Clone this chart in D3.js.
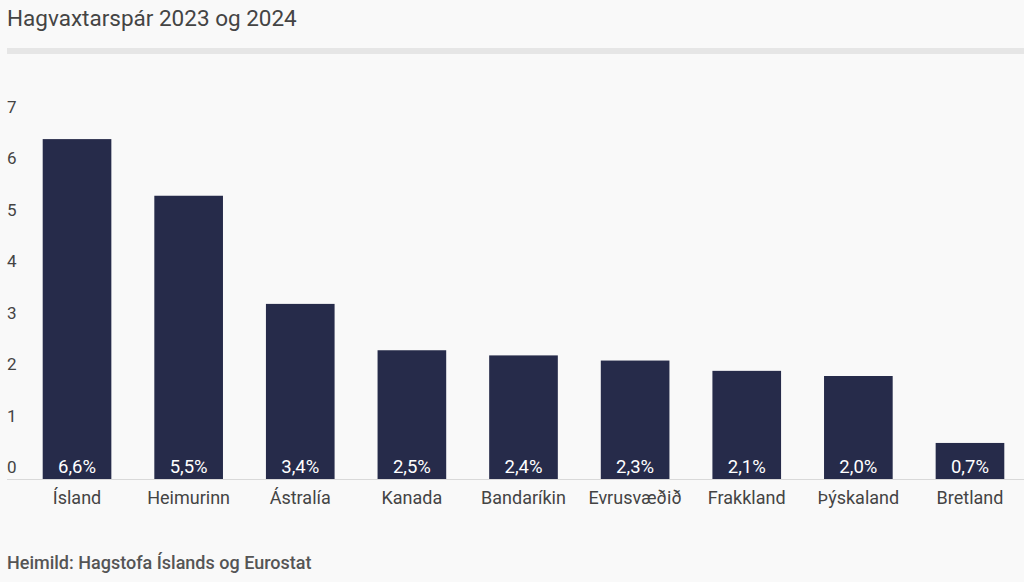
<!DOCTYPE html>
<html>
<head>
<meta charset="utf-8">
<script src="https://cdn.jsdelivr.net/npm/d3@7"></script>
<style>
  body { margin: 0; background: #f9f9f9; font-family: Roboto, sans-serif; }
  svg { display: block; }
</style>
</head>
<body>
<svg id="chart" width="1024" height="582"></svg>
<script>
const countries = ['Ísland', 'Heimurinn', 'Ástralía', 'Kanada', 'Bandaríkin', 'Evrusvæðið', 'Frakkland', 'Þýskaland', 'Bretland'];
const growth = [6.6, 5.5, 3.4, 2.5, 2.4, 2.3, 2.1, 2.0, 0.7];
const yTicks = [0, 1, 2, 3, 4, 5, 6, 7];

const svg = d3.select('#chart');
svg.append('rect').attr('width', 1024).attr('height', 582).attr('fill', '#f9f9f9');

// title + grey band
svg.append('text').text('Hagvaxtarspár 2023 og 2024')
    .attr('x', 7).attr('y', 26)
    .style('font-size', '22.5px').style('fill', '#444');
svg.append('rect').attr('x', 7).attr('y', 48).attr('width', 1017).attr('height', 6).attr('fill', '#e6e6e6');

let x = d3.scaleBand().domain(countries).range([42.7, 1004.3]).paddingInner(0.385).paddingOuter(0);
let y = d3.scaleLinear().domain([0, 7]).range([479, 118.5]);

// y tick labels (sit just above their value)
svg.append('g').selectAll('text').data(yTicks).enter().append('text')
    .text(d => d)
    .attr('x', 7).attr('y', d => y(d) - 6)
    .style('font-size', '17px').style('fill', '#444');

// bars
let bars = svg.append('g').selectAll('g').data(countries).enter().append('g');
bars.append('rect')
    .attr('x', d => x(d))
    .attr('width', x.bandwidth())
    .attr('y', (d, i) => y(growth[i]))
    .attr('height', (d, i) => y(0) - y(growth[i]))
    .attr('fill', '#262b4a');

bars.append('text')
    .text((d, i) => growth[i].toFixed(1).replace('.', ',') + '%')
    .attr('x', d => x(d) + x.bandwidth() / 2)
    .attr('y', y(0) - 6)
    .attr('text-anchor', 'middle')
    .style('font-size', '18.5px').style('fill', '#fff');

// baseline
svg.append('line').attr('x1', 7).attr('x2', 1024).attr('y1', 479.5).attr('y2', 479.5)
    .style('stroke', '#d9d9d9').style('stroke-width', 1);

// x labels
bars.append('text').text(d => d)
    .attr('x', d => x(d) + x.bandwidth() / 2)
    .attr('y', 504)
    .attr('text-anchor', 'middle')
    .style('font-size', '18px').style('fill', '#444');

// source
svg.append('text').text('Heimild: Hagstofa Íslands og Eurostat')
    .attr('x', 7).attr('y', 569)
    .style('font-size', '18px').style('font-weight', 500).style('fill', '#555');
</script>
</body>
</html>
